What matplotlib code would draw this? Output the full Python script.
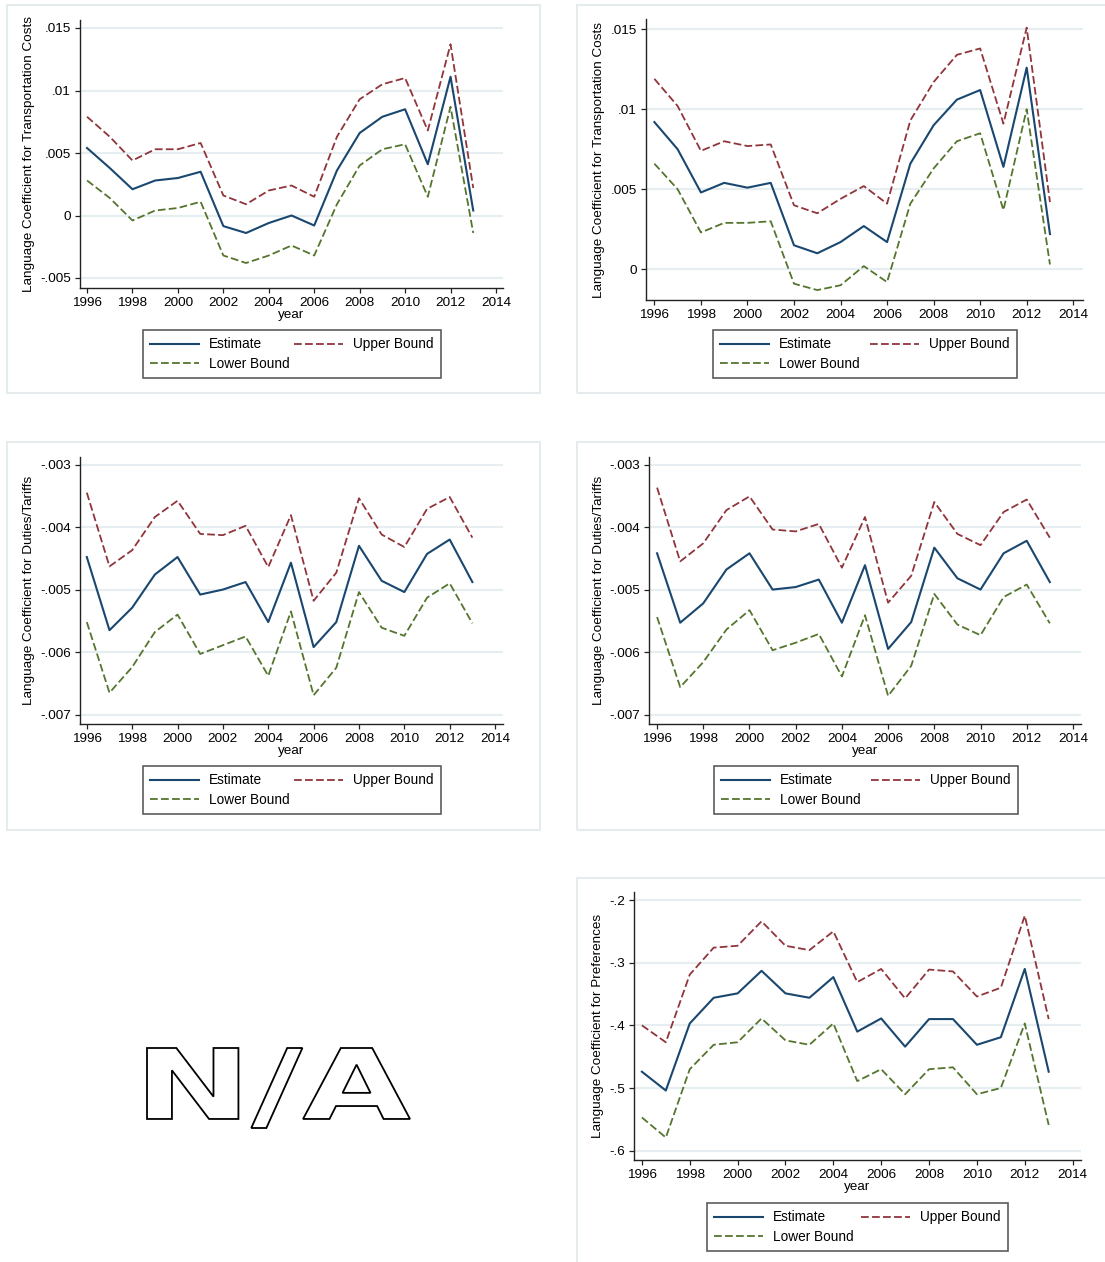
import numpy as np
import matplotlib
matplotlib.use("Agg")
import matplotlib.pyplot as plt
from matplotlib.patches import Rectangle, PathPatch
from matplotlib.textpath import TextPath
from matplotlib.font_manager import FontProperties
from matplotlib.transforms import Affine2D

plt.rcParams['font.family'] = ['Liberation Sans', 'DejaVu Sans']

years = list(range(1996, 2014))

# transportation costs, first specification
trans1_est = [0.0054, 0.0038, 0.0021, 0.0028, 0.0030, 0.0035, -0.00085, -0.0014, -0.0006, 0.0000,
              -0.0008, 0.0036, 0.0066, 0.0079, 0.0085, 0.0041, 0.0111, 0.0004]
trans1_hi = [0.0079, 0.0063, 0.0044, 0.0053, 0.0053, 0.0058, 0.0016, 0.0009, 0.0020, 0.0024,
             0.0015, 0.0063, 0.0093, 0.0105, 0.0110, 0.0068, 0.0137, 0.0022]
trans1_lo = [0.0028, 0.0014, -0.0004, 0.0004, 0.0006, 0.0011, -0.0032, -0.0038, -0.0032, -0.0024,
             -0.0032, 0.0009, 0.0040, 0.0053, 0.0057, 0.0015, 0.0087, -0.0014]

# transportation costs, second specification
trans2_est = [0.0092, 0.0075, 0.0048, 0.0054, 0.0051, 0.0054, 0.0015, 0.0010, 0.0017, 0.0027,
              0.0017, 0.0066, 0.0090, 0.0106, 0.0112, 0.0064, 0.0126, 0.0022]
trans2_hi = [0.0119, 0.0102, 0.0074, 0.0080, 0.0077, 0.0078, 0.0040, 0.0035, 0.0044, 0.0052,
             0.0041, 0.0093, 0.0117, 0.0134, 0.0138, 0.0091, 0.0151, 0.0042]
trans2_lo = [0.0066, 0.0050, 0.0023, 0.0029, 0.0029, 0.0030, -0.0009, -0.0013, -0.0010, 0.0002,
             -0.0008, 0.0041, 0.0063, 0.0080, 0.0085, 0.0037, 0.0100, 0.0003]

# duties / tariffs, first specification
duty1_est = [-0.00448, -0.00565, -0.00529, -0.00476, -0.00448, -0.00508, -0.00500, -0.00488, -0.00552,
             -0.00457, -0.00592, -0.00552, -0.00430, -0.00486, -0.00504, -0.00443, -0.00420, -0.00488]
duty1_hi = [-0.00345, -0.00463, -0.00437, -0.00384, -0.00358, -0.00411, -0.00413, -0.00398, -0.00464,
            -0.00381, -0.00518, -0.00473, -0.00354, -0.00412, -0.00432, -0.00371, -0.00352, -0.00417]
duty1_lo = [-0.00552, -0.00665, -0.00624, -0.00568, -0.00540, -0.00603, -0.00589, -0.00575, -0.00638,
            -0.00535, -0.00669, -0.00625, -0.00504, -0.00561, -0.00574, -0.00513, -0.00490, -0.00554]

# duties / tariffs, second specification
duty2_est = [-0.00442, -0.00553, -0.00522, -0.00468, -0.00442, -0.00500, -0.00496, -0.00484, -0.00553,
             -0.00461, -0.00595, -0.00552, -0.00433, -0.00482, -0.00500, -0.00442, -0.00422, -0.00488]
duty2_hi = [-0.00337, -0.00455, -0.00426, -0.00373, -0.00351, -0.00404, -0.00407, -0.00395, -0.00465,
            -0.00384, -0.00521, -0.00478, -0.00360, -0.00411, -0.00429, -0.00376, -0.00356, -0.00417]
duty2_lo = [-0.00544, -0.00656, -0.00616, -0.00564, -0.00533, -0.00597, -0.00585, -0.00571, -0.00639,
            -0.00541, -0.00670, -0.00622, -0.00507, -0.00556, -0.00573, -0.00512, -0.00492, -0.00554]

# preferences
pref_est = [-0.474, -0.504, -0.397, -0.356, -0.349, -0.313, -0.349, -0.356, -0.323, -0.410,
            -0.389, -0.434, -0.390, -0.390, -0.431, -0.419, -0.310, -0.474]
pref_hi = [-0.400, -0.427, -0.319, -0.276, -0.273, -0.234, -0.273, -0.280, -0.250, -0.331,
           -0.310, -0.357, -0.311, -0.314, -0.354, -0.340, -0.225, -0.390]
pref_lo = [-0.547, -0.579, -0.470, -0.431, -0.427, -0.389, -0.424, -0.431, -0.397, -0.489,
           -0.470, -0.510, -0.470, -0.467, -0.510, -0.500, -0.397, -0.559]

trans_ticks = [-0.005, 0, 0.005, 0.01, 0.015]
trans_labels = ['-.005', '0', '.005', '.01', '.015']
trans2_ticks = [0, 0.005, 0.01, 0.015]
trans2_labels = ['0', '.005', '.01', '.015']
duty_ticks = [-0.007, -0.006, -0.005, -0.004, -0.003]
duty_labels = ['-.007', '-.006', '-.005', '-.004', '-.003']
pref_ticks = [-0.6, -0.5, -0.4, -0.3, -0.2]
pref_labels = ['-.6', '-.5', '-.4', '-.3', '-.2']
year_ticks = list(range(1996, 2015, 2))

NAVY = '#1a476f'
MAROON = '#90353b'
GREEN = '#55752f'
GRID = '#e6eef1'
FRAME = '#e6ecee'
DASH = (4.3, 1.8)

W, H = 1105, 1262
fig = plt.figure(figsize=(W / 100, H / 100), dpi=100)


def px_axes(l, r, t, b):
    return fig.add_axes([l / W, 1 - b / H, (r - l) / W, (b - t) / H])


def panel(box, xlim, ylim, ticks, labels, ylabel, est, hi, lo, ylab_x, legend_box, show_year=True):
    ax = px_axes(*box)
    ax.set_xlim(*xlim)
    ax.set_ylim(*ylim)
    for t in ticks:
        ax.axhline(t, color=GRID, lw=1.6, zorder=0)
    l1, = ax.plot(years, est, color=NAVY, lw=1.5)
    l2, = ax.plot(years, hi, color=MAROON, lw=1.3, dashes=DASH)
    l3, = ax.plot(years, lo, color=GREEN, lw=1.3, dashes=DASH)
    ax.set_yticks(ticks)
    ax.set_yticklabels(labels)
    ax.set_xticks(year_ticks)
    ax.tick_params(labelsize=9.7, length=3.6, width=0.9, color='#222222', pad=3)
    for s in ['top', 'right']:
        ax.spines[s].set_visible(False)
    for s in ['left', 'bottom']:
        ax.spines[s].set_linewidth(1.0)
        ax.spines[s].set_color('#222222')
    if show_year:
        ax.set_xlabel('year', fontsize=9.7, labelpad=0)
    cy = (box[2] + box[3]) / 2
    fig.text(ylab_x / W, 1 - cy / H, ylabel, rotation=90, ha='center', va='center', fontsize=9.7)
    lx0, lx1, ly0, ly1 = legend_box
    leg = ax.legend([l1, l3, l2], ['Estimate', 'Lower Bound', 'Upper Bound'], ncol=2,
                    loc='upper left', mode='expand',
                    bbox_to_anchor=(lx0 / W, 1 - ly1 / H, (lx1 - lx0) / W, (ly1 - ly0) / H),
                    bbox_transform=fig.transFigure, fontsize=9.8, handlelength=3.6,
                    handletextpad=0.7, borderpad=0.55, labelspacing=0.4, columnspacing=1.0,
                    fancybox=False, borderaxespad=0)
    fr = leg.get_frame()
    fr.set_edgecolor('#333333')
    fr.set_linewidth(1.2)
    return ax


def frame(l, r, t, b):
    fig.patches.append(Rectangle((l / W, 1 - b / H), (r - l) / W, (b - t) / H, fill=False,
                                 edgecolor=FRAME, lw=1.5, transform=fig.transFigure))


frame(7, 540, 5, 393)
frame(577, 1110, 5, 393)
frame(7, 540, 442, 830)
frame(577, 1110, 442, 830)
frame(577, 1110, 878, 1270)

panel((80, 503, 20, 288), (1995.69, 2014.31), (-0.0058, 0.01564), trans_ticks, trans_labels,
      'Language Coefficient for Transportation Costs', trans1_est, trans1_hi, trans1_lo, 29,
      (143, 441, 330, 375))
panel((646, 1083, 19, 300), (1995.64, 2014.42), (-0.00192, 0.01564), trans2_ticks, trans2_labels,
      'Language Coefficient for Transportation Costs', trans2_est, trans2_hi, trans2_lo, 599,
      (713, 1017, 330, 375), show_year=False)
panel((80, 503, 457, 724), (1995.70, 2014.35), (-0.00715, -0.00288), duty_ticks, duty_labels,
      'Language Coefficient for Duties/Tariffs', duty1_est, duty1_hi, duty1_lo, 29,
      (143, 441, 766, 811))
panel((649, 1081, 457, 724), (1995.65, 2014.35), (-0.00715, -0.00288), duty_ticks, duty_labels,
      'Language Coefficient for Duties/Tariffs', duty2_est, duty2_hi, duty2_lo, 599,
      (714, 1018, 766, 811))
panel((634, 1081, 892, 1160), (1995.67, 2014.35), (-0.6149, -0.1872), pref_ticks, pref_labels,
      'Language Coefficient for Preferences', pref_est, pref_hi, pref_lo, 598,
      (707, 1008, 1203, 1247))

# outlined "N/A" placeholder for the missing panel
tp = TextPath((0, 0), 'N/A', size=100, prop=FontProperties(family='DejaVu Sans', weight='bold'))
ext = tp.get_extents()
bx0, bx1, by0, by1 = 147, 410, 1048, 1128
tr = (Affine2D().translate(-ext.x0, -ext.y0)
      .scale((bx1 - bx0) / ext.width, (by1 - by0) / ext.height)
      .translate(bx0, H - by1)
      .scale(1 / W, 1 / H)) + fig.transFigure
fig.patches.append(PathPatch(tp, facecolor='white', edgecolor='black', lw=1.3, transform=tr))

fig.savefig('out.png', dpi=100, facecolor='white')
